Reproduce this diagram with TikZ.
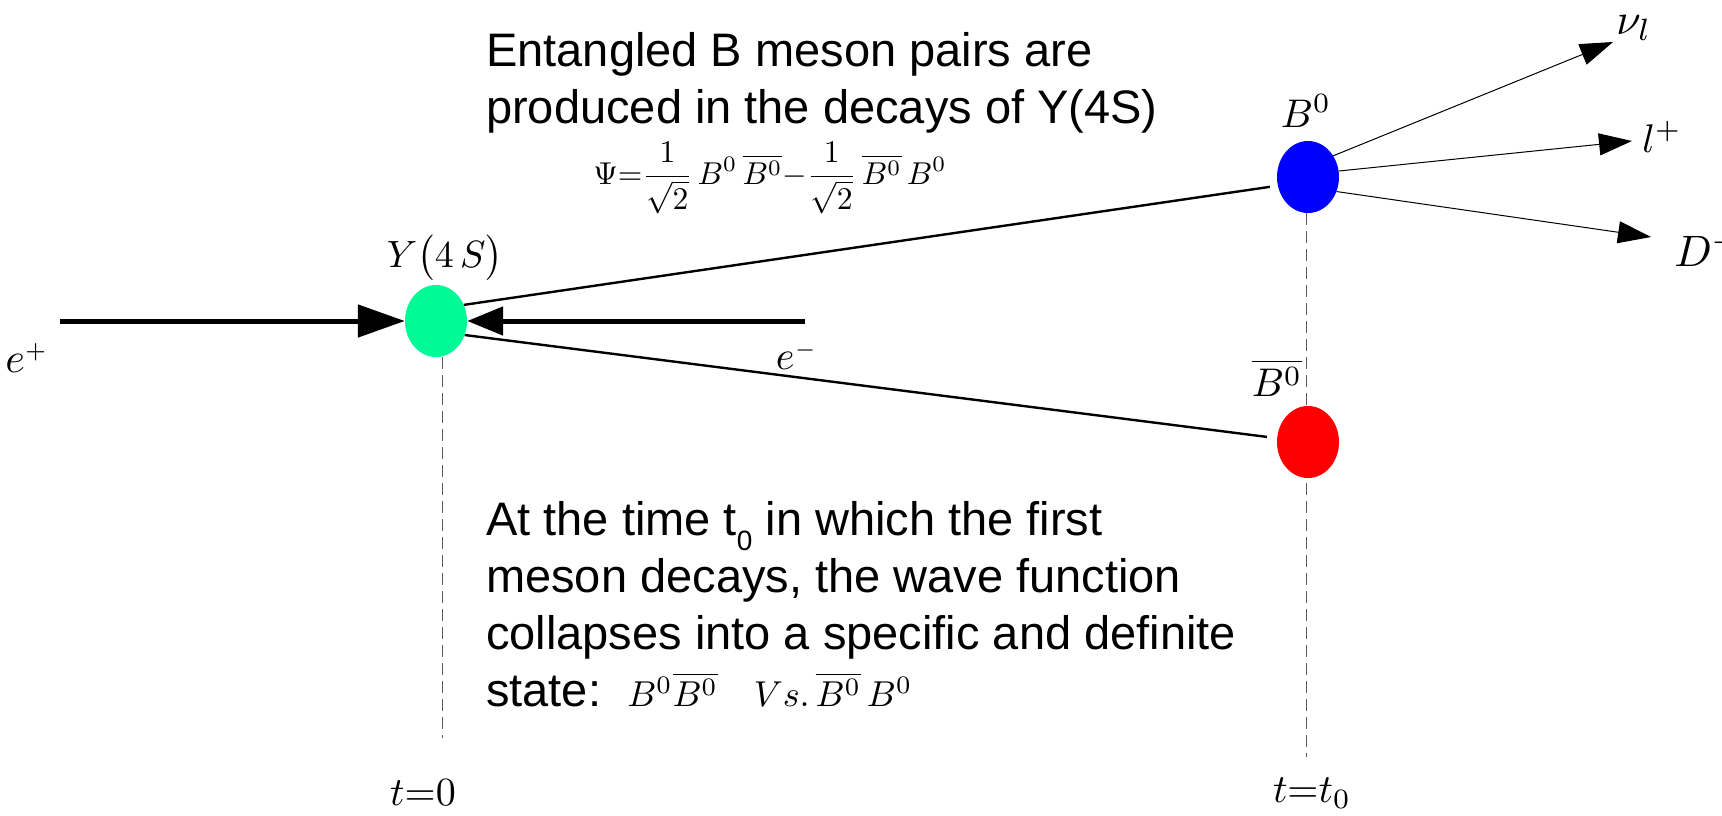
\documentclass[tikz,border=0pt]{standalone}
\usepackage{graphicx}
\usepackage{fontspec}
\setmainfont{Liberation Sans}
\usetikzlibrary{arrows.meta,shapes.geometric}
\definecolor{ygreen}{RGB}{0,250,150}
\definecolor{dashgray}{RGB}{90,90,90}
\begin{document}
\begin{tikzpicture}[x=1pt,y=-1pt,
  particle/.style={ellipse, minimum width=62pt, minimum height=72pt, inner sep=0pt, draw=none},
  track/.style={line width=2.4pt},
  beam/.style={line width=5pt},
  decay/.style={line width=1pt, -{Triangle[length=33pt,width=22pt]}},
  timeline/.style={dash pattern=on 12pt off 6pt, line width=1pt, draw=dashgray},
  lbl/.style={inner sep=0pt, font=\fontsize{10}{12}\selectfont, scale=4},
  body/.style={inner sep=0pt, align=left, anchor=north west, font=\fontsize{47}{57}\selectfont}]
\useasboundingbox (0,0) rectangle (1722,816);

% particles
\node[particle, fill=ygreen] (Y) at (436,321) {};
\node[particle, fill=blue] (B) at (1308,177) {};

% time lines
\coordinate (t0end) at (442,738);
\coordinate (t1end) at (1306,757);
\draw[timeline] (Y.south) ++(6,0) -- (t0end);
\draw[timeline] (B.south) ++(-2,0) -- (t1end);
\node[particle, fill=red] (Bb) at (1308,442) {};

% beams
\coordinate (ep) at (60,321);
\coordinate (em) at (805,321);
\draw[beam, -{Triangle[length=47pt,width=32pt]}] (ep) -- (Y.west);
\draw[beam, -{Triangle[length=36pt,width=28pt]}] (em) -- (Y.east);

% B meson tracks
\draw[track, shorten >=8pt] (Y.30) -- (B.196);
\draw[track, shorten >=10pt] (Y.334) -- (Bb.173);

% decay products
\coordinate (nu) at (1613,42);
\coordinate (lp) at (1632,141);
\coordinate (dm) at (1651,237);
\draw[decay] (B.40) -- (nu);
\draw[decay] (B.11) -- (lp);
\draw[decay] (B.333) -- (dm);

% labels
\node[lbl, scale=1.1] (nul) at (1634,28) {$\nu_l$};
\node[lbl] (lpl) at (1662,137) {$l^+$};
\node[lbl, scale=1.1] (dml) at (1708,249) {$D^-$};
\node[lbl] (Bl) at (1306,111) {$B^0$};
\node[lbl] (Bbl) at (1277,378) {$\overline{B^0}$};
\node[lbl, scale=0.95] (Yl) at (445,258) {$Y\bigl(4\,S\bigr)$};
\node[lbl, scale=1.05] (epl) at (27,358) {$e^{\scriptscriptstyle +}$};
\node[lbl] (eml) at (797,356) {$e^{\scriptscriptstyle -}$};
\node[lbl, scale=1.0] (tz) at (423,793) {$t{=}0$};
\node[lbl, scale=1.0] (tt) at (1312,793) {$t{=}t_0$};

% texts
\node[body] (title) at (486,32) {Entangled B meson pairs are\\produced in the decays of Y(4S)};
\node[lbl, scale=0.79] (psi) at (770,178)
  {$\displaystyle \Psi{=}\frac{1}{\sqrt{2}}\,B^0\,\overline{B^0}{-}\frac{1}{\sqrt{2}}\,\overline{B^0}\,B^0$};
\node[body] (collapse) at (486,501) {At the time t\raisebox{-0.32em}{\fontsize{28}{28}\selectfont 0} in which the first\\meson decays, the wave function\\collapses into a specific and definite\\state:\ \ {\fontsize{10}{10}\selectfont\scalebox{3.6}{$B^0\overline{B^0}\quad Vs.\,\overline{B^0}\,B^0$}}};
\end{tikzpicture}
\end{document}
